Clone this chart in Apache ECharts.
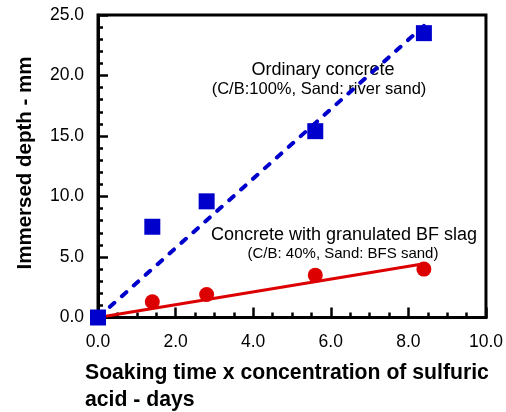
<!DOCTYPE html>
<html>
<head>
<meta charset="utf-8">
<script src="https://cdn.jsdelivr.net/npm/echarts@6/dist/echarts.min.js"></script>
<style>
html,body{margin:0;padding:0;background:#fff;}
#chart{width:506px;height:412px;}
</style>
</head>
<body>
<div id="chart"></div>
<script>
// Data
const xValues = [0, 1.4, 2.8, 5.6, 8.4];
const ordinaryDepth = [0, 7.5, 9.6, 15.4, 23.5];
const slagX = [1.4, 2.8, 5.6, 8.4];
const slagDepth = [1.3, 1.9, 3.5, 4.0];
const ordinaryFitX = [0, 8.4];
const ordinaryFitY = [0, 24.1];
const slagFitX = [0, 8.4];
const slagFitY = [0, 4.45];
const xTicks = [0, 2, 4, 6, 8, 10];
const yTicks = [0, 5, 10, 15, 20, 25];

const pairs = (xs, ys) => xs.map((x, i) => [x, ys[i]]);
const FONT = 'Liberation Sans, Arial, sans-serif';

const chart = echarts.init(document.getElementById('chart'), null, {renderer: 'canvas'});
chart.setOption({
  animation: false,
  backgroundColor: '#fff',
  grid: {left: 98, right: 20, top: 15, bottom: 94.5, show: true, borderColor: '#000', borderWidth: 3, backgroundColor: 'transparent'},
  xAxis: {
    type: 'value', min: xTicks[0], max: xTicks[xTicks.length - 1], interval: 2,
    axisLine: {show: true, onZero: false, lineStyle: {color: '#000', width: 3}},
    axisTick: {show: true, inside: true, length: 10, lineStyle: {color: '#000', width: 2.5}},
    minorTick: {show: true, splitNumber: 4, length: 5, lineStyle: {color: '#000', width: 2.5}},
    splitLine: {show: false},
    axisLabel: {color: '#000', fontSize: 17.5, fontFamily: FONT, margin: 16, formatter: v => v.toFixed(1)}
  },
  yAxis: {
    type: 'value', min: yTicks[0], max: yTicks[yTicks.length - 1], interval: 5,
    axisLine: {show: true, onZero: false, lineStyle: {color: '#000', width: 3}},
    axisTick: {show: true, inside: true, length: 10, lineStyle: {color: '#000', width: 2.5}},
    minorTick: {show: true, splitNumber: 5, length: 5, lineStyle: {color: '#000', width: 2.5}},
    splitLine: {show: false},
    axisLabel: {color: '#000', fontSize: 17.5, fontFamily: FONT, margin: 14, formatter: v => v.toFixed(1)}
  },
  series: [
    {
      type: 'line', data: pairs(slagFitX, slagFitY), symbol: 'none', z: 2,
      lineStyle: {color: '#dd0000', width: 3}
    },
    {
      type: 'line', data: pairs(ordinaryFitX, ordinaryFitY), symbol: 'none', z: 2,
      lineStyle: {color: '#0000cc', width: 4, type: [6, 10], cap: 'round'}
    },
    {
      type: 'scatter', data: pairs(slagX, slagDepth), symbol: 'circle', symbolSize: 15, z: 3,
      itemStyle: {color: '#dd0000', opacity: 1}
    },
    {
      type: 'scatter', data: pairs(xValues, ordinaryDepth), symbol: 'rect', symbolSize: 16, z: 4,
      itemStyle: {color: '#0000cc', opacity: 1}
    }
  ],
  graphic: [
    {type: 'text', x: 25, y: 163, rotation: Math.PI / 2, style: {text: 'Immersed depth - mm', font: 'bold 20.5px ' + FONT, fill: '#000', align: 'center', verticalAlign: 'middle'}},
    {type: 'text', x: 85, y: 373, style: {text: 'Soaking time x concentration of sulfuric', font: 'bold 21.2px ' + FONT, fill: '#000', align: 'left', verticalAlign: 'middle'}},
    {type: 'text', x: 85, y: 400, style: {text: 'acid - days', font: 'bold 21.2px ' + FONT, fill: '#000', align: 'left', verticalAlign: 'middle'}},
    {type: 'text', x: 323, y: 70, style: {text: 'Ordinary concrete', font: '18px ' + FONT, fill: '#000', align: 'center', verticalAlign: 'middle'}},
    {type: 'text', x: 319, y: 89, style: {text: '(C/B:100%, Sand: river sand)', font: '16.5px ' + FONT, fill: '#000', align: 'center', verticalAlign: 'middle'}},
    {type: 'text', x: 344, y: 235, style: {text: 'Concrete with granulated BF slag', font: '18px ' + FONT, fill: '#000', align: 'center', verticalAlign: 'middle'}},
    {type: 'text', x: 343, y: 254, style: {text: '(C/B: 40%, Sand: BFS sand)', font: '15px ' + FONT, fill: '#000', align: 'center', verticalAlign: 'middle'}}
  ]
});
</script>
</body>
</html>
